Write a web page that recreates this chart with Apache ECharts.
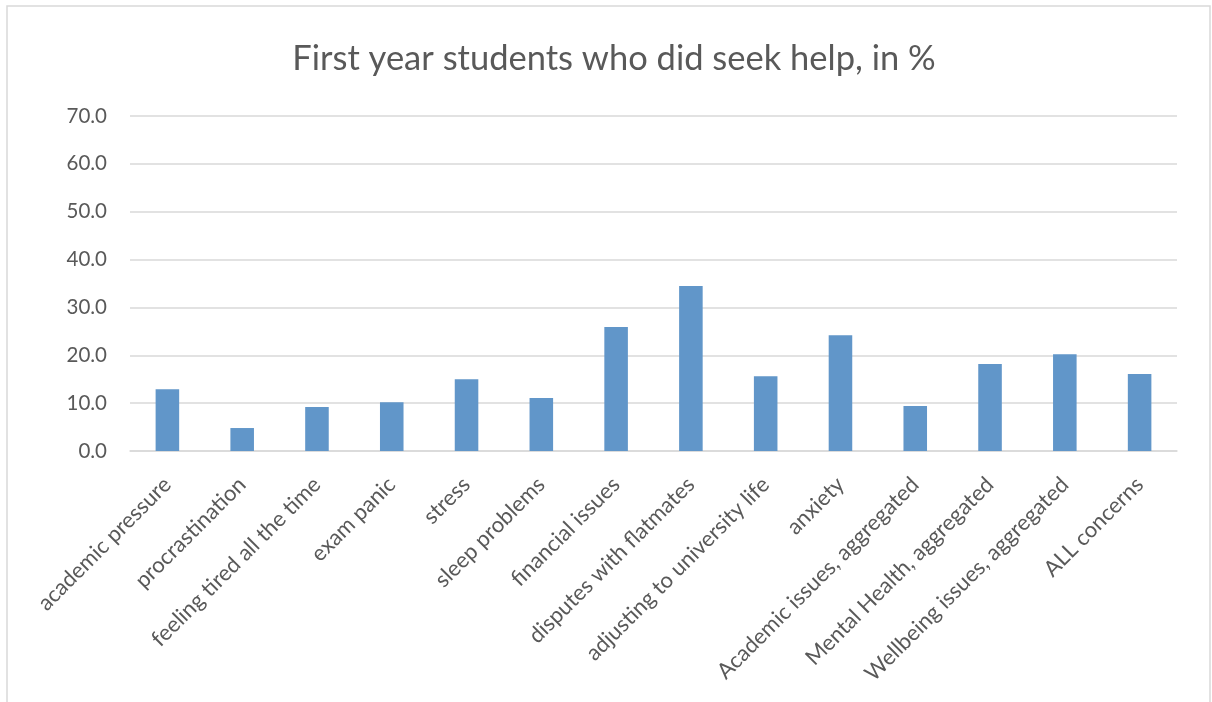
<!DOCTYPE html>
<html>
<head>
<meta charset="utf-8">
<title>First year students who did seek help, in %</title>
<script src="https://cdn.jsdelivr.net/npm/echarts@6/dist/echarts.min.js"></script>
<style>
  html, body { margin: 0; padding: 0; background: #ffffff; }
  #chart { width: 1212px; height: 702px; }
</style>
</head>
<body>
<div id="chart"></div>
<script>
// Concern categories along the x axis
const categories = [
  'academic pressure',
  'procrastination',
  'feeling tired all the time',
  'exam panic',
  'stress',
  'sleep problems',
  'financial issues',
  'disputes with flatmates',
  'adjusting to university life',
  'anxiety',
  'Academic issues, aggregated',
  'Mental Health, aggregated',
  'Wellbeing issues, aggregated',
  'ALL concerns'
];

// Share of first year students who sought help, in %
const soughtHelp = [12.9, 4.8, 9.2, 10.2, 15.0, 11.1, 25.9, 34.5, 15.6, 24.2, 9.4, 18.2, 20.2, 16.1];

// Value axis range
const yMin = 0;
const yMax = 70;
const yStep = 10;

const textColor = '#595959';
const lineColor = '#d9d9d9';
const fontFamily = 'Lato, "Open Sans", sans-serif';

const chart = echarts.init(document.getElementById('chart'), null, { renderer: 'canvas' });

chart.setOption({
  backgroundColor: '#ffffff',
  animation: false,
  graphic: [{
    type: 'rect',
    shape: { x: 7, y: 6, width: 1203, height: 720 },
    style: { fill: 'none', stroke: lineColor, lineWidth: 1.5 },
    silent: true
  }],
  title: {
    text: 'First year students who did seek help, in %',
    left: 609,
    textAlign: 'center',
    top: 36,
    textStyle: { fontFamily, fontSize: 34.5, fontWeight: 'normal', color: textColor }
  },
  grid: { left: 130, right: 35, top: 116, bottom: 251, containLabel: false },
  xAxis: {
    type: 'category',
    data: categories,
    axisLine: { show: true, lineStyle: { color: lineColor, width: 1.5 } },
    axisTick: { show: false },
    axisLabel: {
      interval: 0,
      rotate: 45,
      margin: 30,
      fontFamily,
      fontSize: 22,
      color: textColor
    }
  },
  yAxis: {
    type: 'value',
    min: yMin,
    max: yMax,
    interval: yStep,
    axisLine: { show: false },
    axisTick: { show: false },
    splitLine: { lineStyle: { color: lineColor, width: 1.5 } },
    axisLabel: {
      margin: 23,
      fontFamily,
      fontSize: 20.5,
      color: textColor,
      formatter: v => v.toFixed(1)
    }
  },
  series: [{
    type: 'bar',
    data: soughtHelp,
    barWidth: '31.5%',
    itemStyle: { color: '#6196c9' }
  }]
});
</script>
</body>
</html>
